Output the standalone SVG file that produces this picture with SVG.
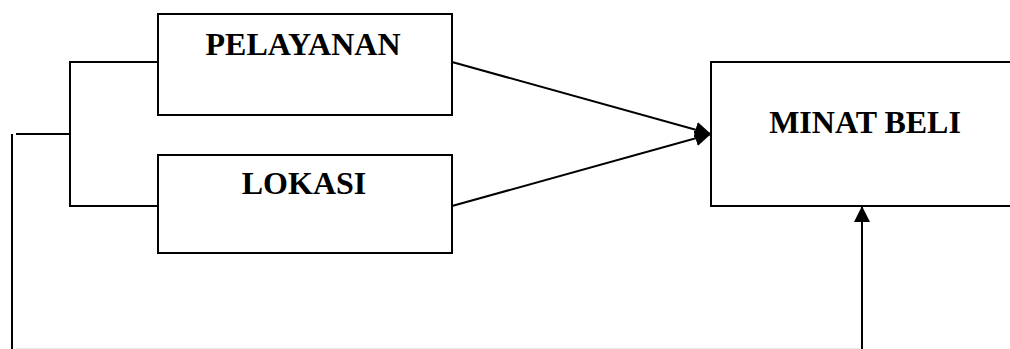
<svg xmlns="http://www.w3.org/2000/svg" width="1010" height="349" viewBox="0 0 1010 349">
  <style>
    .box { fill: #ffffff; stroke: #000000; stroke-width: 2; }
    .lbl { font-family: "Liberation Serif", "Times New Roman", serif; font-weight: bold; font-size: 32px; fill: #000000; text-anchor: middle; }
    .conn { fill: none; stroke: #000000; stroke-width: 2; }
    .faint { fill: none; stroke: #ececec; stroke-width: 1; }
  </style>
  <defs>
    <marker id="arrow" viewBox="0 0 10 10" refX="10" refY="5" markerWidth="16" markerHeight="16" markerUnits="userSpaceOnUse" orient="auto">
      <path d="M0,0 L10,5 L0,10 z" fill="#000000"/>
    </marker>
  </defs>
  <rect width="1010" height="349" fill="#ffffff"/>
  <g id="connectors">
    <path class="conn" d="M158,62 H70 V206 H158"/>
    <path class="conn" d="M16,134 H70"/>
    <path class="conn" d="M12,134 V349"/>
    <path class="faint" d="M16,348.5 H860"/>
    <path class="conn" d="M452,62 L711,134" marker-end="url(#arrow)"/>
    <path class="conn" d="M452,206 L711,134" marker-end="url(#arrow)"/>
    <path class="conn" d="M862,349 V206" marker-end="url(#arrow)"/>
  </g>
  <g id="node-pelayanan">
    <rect class="box" x="158" y="14" width="294" height="101"/>
    <text class="lbl" x="303" y="55">PELAYANAN</text>
  </g>
  <g id="node-lokasi">
    <rect class="box" x="158" y="155" width="294" height="98"/>
    <text class="lbl" x="304" y="194">LOKASI</text>
  </g>
  <g id="node-minat-beli">
    <rect class="box" x="711" y="62" width="310" height="144"/>
    <text class="lbl" x="865" y="133">MINAT BELI</text>
  </g>
</svg>
